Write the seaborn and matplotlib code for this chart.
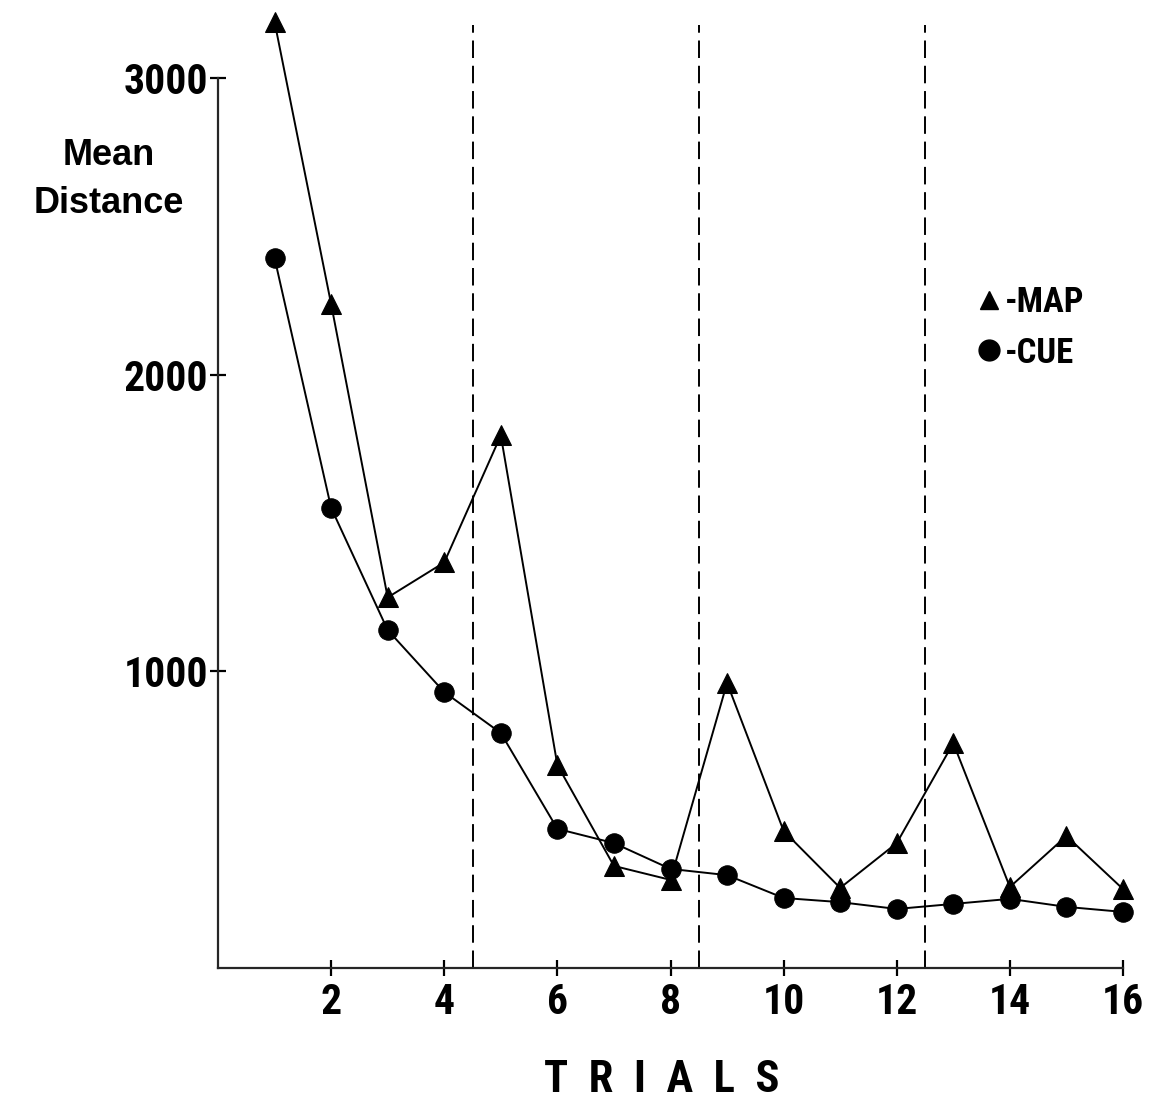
"""
Mean distance per trial for MAP and CUE groups (replot of scanned figure).
"""

import pandas as pd
import matplotlib
matplotlib.use("Agg")
import matplotlib.pyplot as plt
from matplotlib import font_manager
from matplotlib.lines import Line2D
import seaborn as sns

trials = list(range(1, 17))
map_dist = [3189, 2238, 1249, 1367, 1795, 684, 344, 297,
            961, 462, 270, 421, 758, 273, 445, 266]
cue_dist = [2393, 1551, 1139, 930, 792, 469, 421, 334,
            313, 236, 222, 199, 216, 233, 206, 189]
block_edges = [4.5, 8.5, 12.5]
x_ticks = [2, 4, 6, 8, 10, 12, 14, 16]
y_ticks = [1000, 2000, 3000]

sns.set_style("ticks")

# pick a narrow face if one is around, else plain Liberation Sans
installed = {f.name for f in font_manager.fontManager.ttflist}
narrow = next((n for n in ["Roboto Condensed", "Liberation Sans Narrow",
                           "Arial Narrow"] if n in installed), None)
if narrow:
    num_font, num_size, lab_size, leg_size = narrow, 30, 32, 25
else:
    num_font, num_size, lab_size, leg_size = "Liberation Sans", 27, 27, 21
plt.rcParams["font.family"] = [num_font, "DejaVu Sans"]
plt.rcParams["text.color"] = "black"
plt.rcParams["axes.labelcolor"] = "black"

df = pd.DataFrame({
    "trial": trials * 2,
    "distance": map_dist + cue_dist,
    "group": ["MAP"] * len(trials) + ["CUE"] * len(trials),
})

px_per_trial = 905 / 16
fig = plt.figure(figsize=(11.52, 11.10), dpi=100)
ax = fig.add_axes([218 / 1152, 1 - 968 / 1110,
                   16.4 * px_per_trial / 1152, 958 / 1110])

sns.lineplot(
    data=df, x="trial", y="distance", style="group",
    markers={"MAP": "^", "CUE": "o"}, dashes=False,
    color="black", linewidth=1.4, markersize=14,
    markeredgecolor="black", legend=False, ax=ax,
)

# block separators
for xb in block_edges:
    ax.axvline(xb, ymin=0, ymax=3180 / 3229, color="black",
               linewidth=1.4, linestyle=(0, (9, 4)))

ax.set_xlim(0, 16.4)
ax.set_ylim(0, 3229)
sns.despine(ax=ax)
ax.spines["left"].set_bounds(0, 3000)
ax.spines["bottom"].set_bounds(0, 16)
ax.spines["left"].set_linewidth(1.6)
ax.spines["bottom"].set_linewidth(1.6)

ax.set_xticks(x_ticks)
ax.set_yticks(y_ticks)
ax.tick_params(axis="both", direction="inout", length=12, width=1.6,
               labelsize=num_size, colors="black")
ax.tick_params(axis="x", pad=4)
ax.tick_params(axis="y", pad=1)
for lab in ax.get_xticklabels() + ax.get_yticklabels():
    lab.set_fontweight("bold")

ax.set_ylabel("Mean\nDistance", rotation=0, fontsize=26, fontweight="bold",
              family=["Liberation Sans", "DejaVu Sans"], color="black",
              ha="center", va="center", linespacing=1.5)
ax.yaxis.set_label_coords(-0.118, 0.823)
ax.set_xlabel("T  R  I  A  L  S", fontsize=lab_size, fontweight="bold",
              color="black")
ax.xaxis.set_label_coords((662 - 218) / (16.4 * px_per_trial), -0.095)

handles = [
    Line2D([], [], color="black", marker="^", linestyle="none", markersize=13),
    Line2D([], [], color="black", marker="o", linestyle="none", markersize=15),
]
fig.legend(handles, ["-MAP", "-CUE"], loc="upper left",
           bbox_to_anchor=(944 / 1152, 1 - 255 / 1110), frameon=False,
           handlelength=0.8, handletextpad=0.05, labelspacing=0.5,
           labelcolor="black",
           prop={"family": num_font, "weight": "bold", "size": leg_size})

fig.savefig("out.png", dpi=100)
plt.close(fig)
